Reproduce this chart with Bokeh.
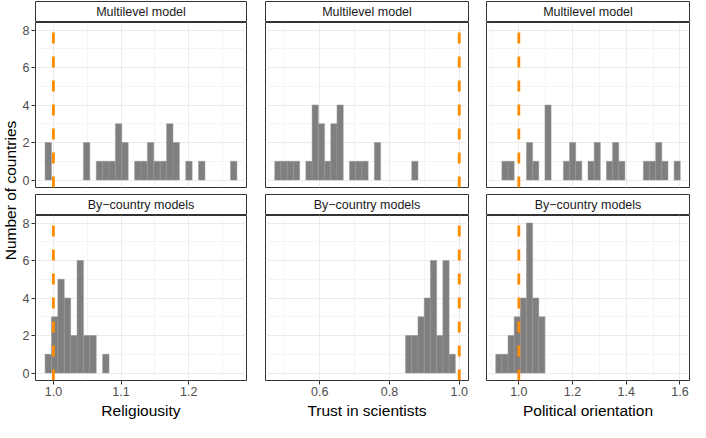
import numpy as np
from bokeh.plotting import figure
from bokeh.layouts import gridplot, row
from bokeh.models import Range1d, FixedTicker, Label, PrintfTickFormatter
from bokeh.embed import file_html
from bokeh.resources import INLINE

# ---------------- data ----------------
row_labels = ["Multilevel model", "By\u2212country models"]
x_titles = ["Religiousity", "Trust in scientists", "Political orientation"]
y_title = "Number of countries"
reference_value = 1.0

# histogram bins: left edge of the first bin and bin width, per variable
religiousity_bin_start = 0.9877
religiousity_bin_width = 0.009456
trust_bin_start = 0.4708
trust_bin_width = 0.01786
political_bin_start = 0.9139
political_bin_width = 0.02291

# counts of countries per bin
religiousity_multilevel = [2, 0, 0, 0, 0, 0, 2, 0, 1, 1, 1, 3, 2, 0, 1,
                           1, 2, 1, 1, 3, 2, 0, 1, 0, 1, 0, 0, 0, 0, 1]
religiousity_bycountry = [1, 3, 5, 4, 2, 6, 2, 2, 0, 1, 0, 0, 0, 0, 0,
                          0, 0, 0, 0, 0, 0, 0, 0, 0, 0, 0, 0, 0, 0, 0]
trust_multilevel = [1, 1, 1, 1, 0, 1, 4, 3, 1, 3, 4, 0, 1, 1, 1,
                    0, 2, 0, 0, 0, 0, 0, 1, 0, 0, 0, 0, 0, 0]
trust_bycountry = [0, 0, 0, 0, 0, 0, 0, 0, 0, 0, 0, 0, 0, 0, 0,
                   0, 0, 0, 0, 0, 0, 2, 2, 3, 4, 6, 2, 6, 1]
political_multilevel = [0, 1, 1, 0, 0, 2, 1, 0, 4, 0, 0, 1, 2, 1, 0,
                        1, 2, 0, 1, 2, 1, 0, 0, 0, 1, 1, 2, 1, 0, 1]
political_bycountry = [1, 1, 2, 3, 4, 8, 4, 3, 0, 0, 0, 0, 0, 0, 0,
                       0, 0, 0, 0, 0, 0, 0, 0, 0, 0, 0, 0, 0, 0, 0]

# axis ticks and labels
religiousity_ticks = [1.0, 1.1, 1.2]
religiousity_tick_labels = ["1.0", "1.1", "1.2"]
religiousity_minor = [1.05, 1.15, 1.25]
trust_ticks = [0.6, 0.8, 1.0]
trust_tick_labels = ["0.6", "0.8", "1.0"]
trust_minor = [0.5, 0.7, 0.9]
political_ticks = [1.0, 1.2, 1.4, 1.6]
political_tick_labels = ["1.0", "1.2", "1.4", "1.6"]
political_minor = [0.9, 1.1, 1.3, 1.5]
y_ticks = [0, 2, 4, 6, 8]
y_tick_labels = ["0", "2", "4", "6", "8"]
y_minor = [1, 3, 5, 7]

columns = [
    dict(start=religiousity_bin_start, width=religiousity_bin_width,
         counts=[religiousity_multilevel, religiousity_bycountry],
         ticks=religiousity_ticks, labels=religiousity_tick_labels, minor=religiousity_minor),
    dict(start=trust_bin_start, width=trust_bin_width,
         counts=[trust_multilevel, trust_bycountry],
         ticks=trust_ticks, labels=trust_tick_labels, minor=trust_minor),
    dict(start=political_bin_start, width=political_bin_width,
         counts=[political_multilevel, political_bycountry],
         ticks=political_ticks, labels=political_tick_labels, minor=political_minor),
]

# ---------------- layout / style ----------------
FONT = "Liberation Sans"
TICK_FS = "12.5px"
STRIP_FS = "12.5px"
TITLE_FS = "15.5px"
ytitle_w = 19
frame_w = [213, 203, 203]
border_l = [14, 9, 9]
border_r = [10, 9, 2]
strip_h = 22
panel_h = 165
gap_h = 6
bottom_h = 42
total_h = 2 * strip_h + 2 * panel_h + gap_h + bottom_h

BORDER = "#333333"
GRID = "#EBEBEB"
BAR = "#7F7F7F"
ORANGE = "#FF8C00"

max_count = max(max(c) for col in columns for c in col["counts"])
y_pad = 0.05 * max_count
y_lo, y_hi = -y_pad, max_count + y_pad


def x_limits(col):
    n = len(col["counts"][0])
    lo = min(col["start"], reference_value)
    hi = max(col["start"] + n * col["width"], reference_value)
    pad = 0.05 * (hi - lo)
    return lo - pad, hi + pad


def make_strip(c, text):
    s = figure(width=border_l[c] + frame_w[c] + border_r[c], height=strip_h,
               x_range=Range1d(0, 1), y_range=Range1d(0, 1),
               x_axis_location=None, y_axis_location=None, title_location=None,
               toolbar_location=None, output_backend="svg",
               min_border_left=border_l[c], min_border_right=border_r[c],
               min_border_top=1, min_border_bottom=0)
    s.xgrid.visible = False
    s.ygrid.visible = False
    s.outline_line_color = BORDER
    s.outline_line_width = 1
    s.background_fill_color = "white"
    s.border_fill_color = "white"
    s.add_layout(Label(x=0.5, y=0.5, text=text, text_align="center",
                       text_baseline="middle", text_font=FONT,
                       text_font_size=STRIP_FS, text_color="#1A1A1A"))
    return s


def make_panel(c, r):
    col = columns[c]
    bottom = (r == 1)
    left = (c == 0)
    bb = bottom_h if bottom else gap_h
    xlo, xhi = x_limits(col)
    p = figure(width=border_l[c] + frame_w[c] + border_r[c], height=panel_h + bb,
               x_range=Range1d(xlo, xhi), y_range=Range1d(y_lo, y_hi),
               x_axis_location="below" if bottom else None,
               y_axis_location="left" if left else None,
               title_location=None, toolbar_location=None, output_backend="svg",
               min_border_left=border_l[c], min_border_right=border_r[c],
               min_border_top=0, min_border_bottom=bb)
    p.background_fill_color = "white"
    p.border_fill_color = "white"
    p.outline_line_color = BORDER
    p.outline_line_width = 1

    xt = FixedTicker(ticks=col["ticks"], minor_ticks=col["minor"])
    yt = FixedTicker(ticks=y_ticks, minor_ticks=y_minor)
    p.xgrid.ticker = xt
    p.ygrid.ticker = yt
    for g in (p.xgrid, p.ygrid):
        g.grid_line_color = GRID
        g.grid_line_width = 1
        g.minor_grid_line_color = GRID
        g.minor_grid_line_width = 0.5

    axes = []
    if bottom:
        ax = p.xaxis
        ax.ticker = xt
        ax.formatter = PrintfTickFormatter(format="%.1f")
        ax.major_label_overrides = {t: l for t, l in zip(col["ticks"], col["labels"])}
        ax.axis_label = x_titles[c]
        axes.append(ax)
    if left:
        ay = p.yaxis
        ay.ticker = yt
        ay.major_label_overrides = {t: l for t, l in zip(y_ticks, y_tick_labels)}
        axes.append(ay)
    for a in axes:
        a.axis_line_color = None
        a.major_tick_line_color = BORDER
        a.major_tick_line_width = 1
        a.major_tick_out = 4
        a.major_tick_in = 0
        a.minor_tick_line_color = None
        a.major_label_standoff = 2
        a.major_label_text_font = FONT
        a.major_label_text_font_size = TICK_FS
        a.major_label_text_color = "#4D4D4D"
        a.axis_label_text_font = FONT
        a.axis_label_text_font_size = TITLE_FS
        a.axis_label_text_font_style = "normal"
        a.axis_label_text_color = "black"
        a.axis_label_standoff = 3

    counts = np.array(col["counts"][r], dtype=float)
    n = len(counts)
    lefts = col["start"] + col["width"] * np.arange(n)
    rights = lefts + col["width"]
    m = counts > 0
    p.quad(left=lefts[m], right=rights[m], bottom=0, top=counts[m],
           fill_color=BAR, line_color="#979797", line_width=0.5)
    p.segment(x0=[reference_value], y0=[y_lo], x1=[reference_value], y1=[y_hi],
              line_color=ORANGE, line_width=2.8, line_dash="11 13")
    return p


grid_rows = []
for r in range(2):
    grid_rows.append([make_strip(c, row_labels[r]) for c in range(3)])
    grid_rows.append([make_panel(c, r) for c in range(3)])

grid = gridplot(grid_rows, toolbar_location=None)

yfig = figure(width=ytitle_w, height=total_h, x_range=Range1d(0, 1),
              y_range=Range1d(0, total_h), x_axis_location=None, y_axis_location=None,
              title_location=None, toolbar_location=None, output_backend="svg",
              min_border=0)
yfig.xgrid.visible = False
yfig.ygrid.visible = False
yfig.outline_line_color = None
yfig.background_fill_color = "white"
yfig.border_fill_color = "white"
panels_center = total_h - (2 * strip_h + 2 * panel_h + gap_h) / 2.0
yfig.add_layout(Label(x=0.5, y=panels_center, text=y_title, angle=np.pi / 2,
                      text_align="center", text_baseline="middle", text_font=FONT,
                      text_font_size=TITLE_FS, text_color="black"))

layout = row(yfig, grid)
open("out.html", "w").write(file_html(layout, INLINE))
